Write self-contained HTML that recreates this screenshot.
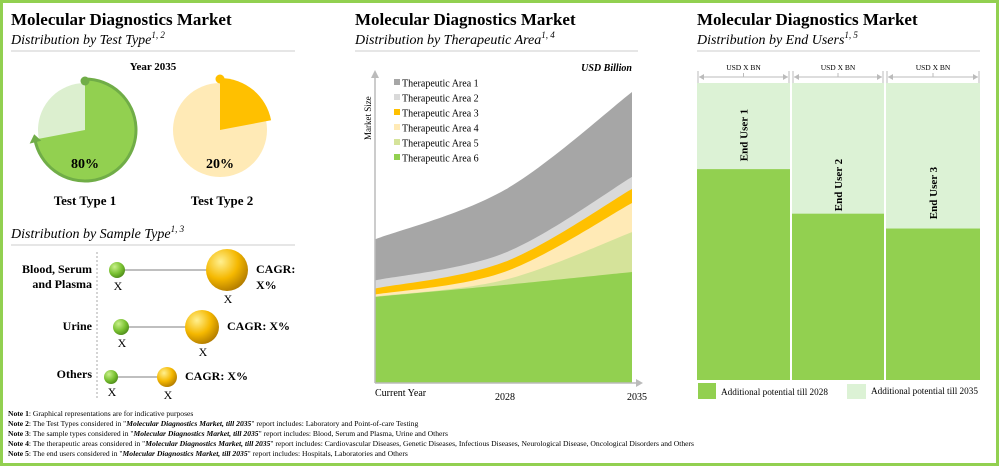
<!DOCTYPE html>
<html><head><meta charset="utf-8">
<style>
body{margin:0;background:#fff;}
#wrap{position:relative;width:1000px;height:467px;overflow:hidden;font-family:"Liberation Serif",serif;}
svg text{font-family:"Liberation Serif",serif;}
</style></head>
<body>
<div id="wrap">
<svg id="svg" width="1000" height="467" viewBox="0 0 1000 467">
<rect x="1.5" y="1.5" width="996" height="463" fill="#fff" stroke="#92d050" stroke-width="3"/>

<!-- LEFT PANEL -->
<g>
<text x="11" y="25" font-size="17" font-weight="bold">Molecular Diagnostics Market</text>
<text x="11" y="44" font-size="14" font-style="italic">Distribution by Test Type<tspan font-size="9" dy="-6">1, 2</tspan></text>
<line x1="11" y1="51" x2="295" y2="51" stroke="#ccc" stroke-width="1"/>
<text x="153" y="70" font-size="11" font-weight="bold" text-anchor="middle">Year 2035</text>
<g id="pies"></g>
<text x="85" y="205" font-size="13" font-weight="bold" text-anchor="middle">Test Type 1</text>
<text x="222" y="205" font-size="13" font-weight="bold" text-anchor="middle">Test Type 2</text>

<text x="11" y="238" font-size="14" font-style="italic">Distribution by Sample Type<tspan font-size="9" dy="-6">1, 3</tspan></text>
<line x1="11" y1="245" x2="295" y2="245" stroke="#ccc" stroke-width="1"/>
<line x1="97" y1="252" x2="97" y2="400" stroke="#aaa" stroke-dasharray="2,2"/>
<g font-size="12" font-weight="bold" text-anchor="end">
<text x="92" y="273">Blood, Serum</text>
<text x="92" y="288">and Plasma</text>
<text x="92" y="330">Urine</text>
<text x="92" y="378">Others</text>
</g>
<defs>
<radialGradient id="gg" cx="0.35" cy="0.3" r="0.75"><stop offset="0" stop-color="#c8f08a"/><stop offset="0.6" stop-color="#78c030"/><stop offset="1" stop-color="#4d8a1a"/></radialGradient>
<radialGradient id="og" cx="0.35" cy="0.3" r="0.75"><stop offset="0" stop-color="#fff090"/><stop offset="0.55" stop-color="#f5b800"/><stop offset="1" stop-color="#b07a00"/></radialGradient>
</defs>
<g id="bubbles" font-size="12" font-weight="bold"></g>
</g>

<!-- MIDDLE PANEL -->
<g>
<text x="355" y="25" font-size="17" font-weight="bold">Molecular Diagnostics Market</text>
<text x="355" y="44" font-size="14" font-style="italic">Distribution by Therapeutic Area<tspan font-size="9" dy="-6">1, 4</tspan></text>
<line x1="355" y1="51" x2="638" y2="51" stroke="#ccc" stroke-width="1"/>
<g id="areas"></g>
<line x1="375" y1="383" x2="375" y2="76" stroke="#bbb" stroke-width="1.5"/>
<polygon points="371,78 375,70 379,78" fill="#bbb"/>
<line x1="375" y1="383" x2="636" y2="383" stroke="#bbb" stroke-width="1.5"/>
<polygon points="636,379 643,383 636,387" fill="#bbb"/>
<text transform="translate(371,140) rotate(-90)" font-size="9">Market Size</text>
<text x="632" y="71" font-size="10" font-weight="bold" font-style="italic" text-anchor="end">USD Billion</text>
<g id="legend" font-size="10"></g>
<g id="xticks" font-size="10"></g>
</g>

<!-- RIGHT PANEL -->
<g>
<text x="697" y="25" font-size="17" font-weight="bold">Molecular Diagnostics Market</text>
<text x="697" y="44" font-size="14" font-style="italic">Distribution by End Users<tspan font-size="9" dy="-6">1, 5</tspan></text>
<line x1="697" y1="51" x2="980" y2="51" stroke="#ccc" stroke-width="1"/>
<g id="bars"></g>
<rect x="698" y="383" width="18" height="16" fill="#92d050"/>
<text x="721" y="395" font-size="9.2">Additional potential till 2028</text>
<rect x="847" y="384" width="19" height="15" fill="#dcf2d5"/>
<text x="871" y="394" font-size="9.2">Additional potential till 2035</text>
</g>

<!-- NOTES -->
<g font-size="7.6">
<text x="8" y="416"><tspan font-weight="bold">Note 1</tspan>: Graphical representations are for indicative purposes</text>
<text x="8" y="426"><tspan font-weight="bold">Note 2</tspan>: The Test Types considered in "<tspan font-weight="bold" font-style="italic">Molecular Diagnostics Market, till 2035</tspan>" report includes: Laboratory and Point-of-care Testing</text>
<text x="8" y="436"><tspan font-weight="bold">Note 3</tspan>: The sample types considered in "<tspan font-weight="bold" font-style="italic">Molecular Diagnostics Market, till 2035</tspan>" report includes: Blood, Serum and Plasma, Urine and Others</text>
<text x="8" y="446"><tspan font-weight="bold">Note 4</tspan>: The therapeutic areas considered in "<tspan font-weight="bold" font-style="italic">Molecular Diagnostics Market, till 2035</tspan>" report includes: Cardiovascular Diseases, Genetic Diseases, Infectious Diseases, Neurological Disease, Oncological Disorders and Others</text>
<text x="8" y="456"><tspan font-weight="bold">Note 5</tspan>: The end users considered in "<tspan font-weight="bold" font-style="italic">Molecular Diagnostics Market, till 2035</tspan>" report includes: Hospitals, Laboratories and Others</text>
</g>
</svg>
</div>
<script>
// Pie data
const pieLabels = ['Test Type 1','Test Type 2'];
const pieShares = [72, 22];
const pieShowText = ['80%','20%'];
// Sample type data
const sampleTypes = ['Blood, Serum and Plasma','Urine','Others'];
const sampleStart = [117, 121, 111];
const sampleEnd = [227, 202, 167];
const sampleStartSize = [8, 8, 7];
const sampleEndSize = [21, 17, 10];
// Therapeutic area data
const periods = ['Current Year','2028','2035'];
const areaNames = ['Therapeutic Area 1','Therapeutic Area 2','Therapeutic Area 3','Therapeutic Area 4','Therapeutic Area 5','Therapeutic Area 6'];
const ta1 = [13.7, 21, 28.3];
const ta2 = [2.7, 3, 4];
const ta3 = [2, 3.3, 4.7];
const ta4 = [0.7, 2.7, 9.7];
const ta5 = [0.1, 1.7, 13.3];
const ta6 = [28.7, 32.7, 37];
// End user data
const endUsers = ['End User 1','End User 2','End User 3'];
const total2035 = [100, 100, 100];
const potential2028 = [71, 56, 51];

const NS='http://www.w3.org/2000/svg';
function mk(tag, attrs, parent){const e=document.createElementNS(NS,tag);for(const k in attrs)e.setAttribute(k,attrs[k]);parent.appendChild(e);return e;}

// Pies
(function(){
  const g=document.getElementById('pies');
  const cx=[85,220], cy=130;
  const cols=[['#92d050','#dcefcf','#70ad47'],['#ffc000','#ffeab6','#ffc000']];
  function pt(c,r,a){const t=(a-90)*Math.PI/180;return [c[0]+r*Math.cos(t),c[1]+r*Math.sin(t)];}
  pieShares.forEach((v,i)=>{
    const c=[cx[i],cy]; const ang=v/100*360;
    const bg=mk('circle',{cx:c[0],cy:c[1],r:47,fill:cols[i][1]},g);
    
    
    const R=i==0?50:52;
    const p1=pt(c,R,0),p2=pt(c,R,ang);
    const w=mk('path',{d:`M${c[0]},${c[1]} L${p1[0]},${p1[1]} A${R},${R} 0 ${ang>180?1:0} 1 ${p2[0]},${p2[1]} Z`,fill:cols[i][0]},g);
    
    
    if(i==0){
      const q2=pt(c,51,ang);const q1=pt(c,51,0);
      mk('path',{d:`M${q1[0]},${q1[1]} A51,51 0 1 1 ${q2[0]},${q2[1]}`,fill:'none',stroke:cols[i][2],'stroke-width':3},g);
      const t1=pt(c,45,ang-3),t2=pt(c,57,ang-3),t3=pt(c,51,ang+6);
      mk('polygon',{points:`${t1} ${t2} ${t3}`,fill:cols[i][2]},g);
    }
    mk('circle',{cx:c[0],cy:c[1]-R+1,r:4.5,fill:cols[i][2]},g);
    const t=mk('text',{x:c[0],y:c[1]+38,'font-size':14,'font-weight':'bold','text-anchor':'middle'},g);
    t.textContent=pieShowText[i];
    
    
  });
})();

// Bubbles
(function(){
  const g=document.getElementById('bubbles');
  const ys=[270,327,377];
  sampleTypes.forEach((s,i)=>{
    const y=ys[i];
    mk('line',{x1:sampleStart[i],y1:y,x2:sampleEnd[i],y2:y,stroke:'#999','stroke-width':1.2},g);
    const a=mk('circle',{cx:sampleStart[i],cy:y,r:sampleStartSize[i],fill:'url(#gg)'},g);
    
    
    const b=mk('circle',{cx:sampleEnd[i],cy:y,r:sampleEndSize[i],fill:'url(#og)'},g);
    
    
    const x1=mk('text',{x:sampleStart[i]+1,y:y+sampleStartSize[i]+12,'text-anchor':'middle','font-weight':'normal'},g);x1.textContent='X';
    const x2=mk('text',{x:sampleEnd[i]+1,y:y+sampleEndSize[i]+12,'text-anchor':'middle','font-weight':'normal'},g);x2.textContent='X';
    const cxp=sampleEnd[i]+sampleEndSize[i]+8;
    if(i==0){
      const t=mk('text',{x:cxp,y:y+3},g);t.textContent='CAGR:';
      const t2=mk('text',{x:cxp,y:y+19},g);t2.textContent='X%';
    } else {
      const t=mk('text',{x:cxp,y:y+3},g);t.textContent='CAGR: X%';
      
      
    }
  });
})();

// Areas
(function(){
  const g=document.getElementById('areas');
  const xs=[375,505,632];
  const xScale=i=>xs[i];
  const yScale=v=>383-v*3;
  const layers=[ta6,ta5,ta4,ta3,ta2,ta1];
  const colors=['#92d050','#d5e39a','#ffeab6','#ffc000','#d9d9d9','#a6a6a6'];
  const names=[...areaNames].reverse();
  let base=[0,0,0];
  function curve(pts){
    let d=`M${pts[0][0]},${pts[0][1]}`;
    for(let i=0;i<pts.length-1;i++){
      const p0=pts[i-1]||pts[i],p1=pts[i],p2=pts[i+1],p3=pts[i+2]||p2;
      const c1=[p1[0]+(p2[0]-p0[0])/6,p1[1]+(p2[1]-p0[1])/6];
      const c2=[p2[0]-(p3[0]-p1[0])/6,p2[1]-(p3[1]-p1[1])/6];
      d+=` C${c1} ${c2} ${p2}`;
    }
    return d;
  }
  const tops=[];
  layers.forEach(l=>{const t=base.map((b,i)=>b+l[i]);tops.push(t);base=t;});
  for(let k=layers.length-1;k>=0;k--){
    const pts=tops[k].map((v,i)=>[xScale(i),yScale(v)]);
    const d=curve(pts)+` L${xScale(2)},383 L${xScale(0)},383 Z`;
    const p=mk('path',{d:d,fill:colors[k]},g);
    
    
  }
  const lg=document.getElementById('legend');
  areaNames.forEach((n,i)=>{
    const y=83+i*15;
    mk('rect',{x:394,y:y-4,width:6,height:6,fill:colors[5-i]},lg);
    const t=mk('text',{x:402,y:y+3.5},lg);t.textContent=n;
    
    
  });
  const xt=document.getElementById('xticks');
  const anchors=['start','middle','middle'];
  const offs=[0,0,5];
  periods.forEach((p,i)=>{
    const t=mk('text',{x:xScale(i)+offs[i],y:i==0?396:400,'text-anchor':anchors[i]},xt);t.textContent=p;
    
    
  });
})();

// Bars
(function(){
  const g=document.getElementById('bars');
  const x0=[697,792,886], w=[93,92,94];
  const top=83,bot=380;
  const yScale=v=>bot-v/100*(bot-top);
  const labelY=[135,185,193];
  endUsers.forEach((u,i)=>{
    const r1=mk('rect',{x:x0[i],y:yScale(total2035[i]),width:w[i],height:bot-yScale(total2035[i]),fill:'#dcf2d5'},g);
    
    
    const r2=mk('rect',{x:x0[i],y:yScale(potential2028[i]),width:w[i],height:bot-yScale(potential2028[i]),fill:'#92d050'},g);
    
    
    const ay=77, a=x0[i]+2, b=x0[i]+w[i]-2, m=x0[i]+w[i]/2;
    mk('line',{x1:a,y1:ay,x2:b,y2:ay,stroke:'#bbb','stroke-width':1},g);
    mk('line',{x1:x0[i]+1,y1:71,x2:x0[i]+1,y2:83,stroke:'#bbb'},g);
    mk('line',{x1:x0[i]+w[i]-1,y1:71,x2:x0[i]+w[i]-1,y2:83,stroke:'#bbb'},g);
    mk('line',{x1:m,y1:73,x2:m,y2:ay,stroke:'#bbb'},g);
    mk('polygon',{points:`${a},${ay} ${a+5},${ay-3} ${a+5},${ay+3}`,fill:'#bbb'},g);
    mk('polygon',{points:`${b},${ay} ${b-5},${ay-3} ${b-5},${ay+3}`,fill:'#bbb'},g);
    const t=mk('text',{x:m,y:70,'font-size':7.5,'text-anchor':'middle'},g);t.textContent='USD X BN';
    const l=mk('text',{transform:`translate(${m+4},${labelY[i]}) rotate(-90)`,'font-size':11,'font-weight':'bold','text-anchor':'middle'},g);
    l.textContent=u;
    
    
  });
})();
</script>
</body></html>
